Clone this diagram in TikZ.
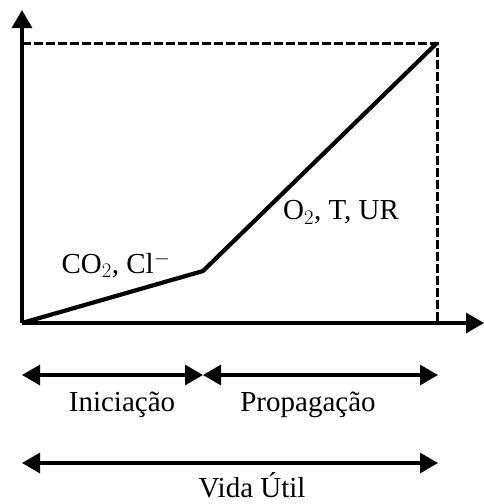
\documentclass[tikz,border=0pt]{standalone}
\usepackage{fontspec}
\setmainfont{Liberation Serif}
\usetikzlibrary{arrows.meta}
\begin{document}
\begin{tikzpicture}[x=1pt,y=-1pt,
  axis/.style={line width=3.2pt,-{Triangle[length=18pt,width=20pt]}},
  guide/.style={line width=3pt,dash pattern=on 9pt off 3pt},
  curve/.style={line width=4.2pt,line join=round},
  span/.style={line width=3.2pt,{Triangle[length=18pt,width=20pt]}-{Triangle[length=18pt,width=20pt]}},
  lbl/.style={font=\fontsize{29}{31}\selectfont,inner sep=0pt}]
\useasboundingbox (0,0) rectangle (484,504);
\coordinate (O) at (22,323);
\coordinate (Ytop) at (22,10);
\coordinate (Xend) at (484,323);
\coordinate (K) at (203,271);
\coordinate (T) at (437,43);
\coordinate (TL) at (22,43);
\coordinate (TB) at (437,323);
\draw[guide] (TL) -- (T) -- (TB);
\draw[axis] (O) -- (Ytop);
\draw[axis] (O) -- (Xend);
\draw[curve] (O) -- (K) -- (T);
\node[lbl] (co2) at (116,265) {CO$_2$, Cl$^{-}$};
\node[lbl] (o2) at (341,212) {O$_2$, T, UR};
\coordinate (a1) at (22,375);
\coordinate (a2) at (203,375);
\coordinate (a3) at (438,375);
\coordinate (b1) at (22,463);
\coordinate (b2) at (438,463);
\draw[span] (a1) -- (a2);
\draw[span] (a2) -- (a3);
\draw[span] (b1) -- (b2);
\node[lbl] (ini) at (122,405) {Iniciação};
\node[lbl] (pro) at (308,405) {Propagação};
\node[lbl] (vida) at (252,485) {Vida Útil};
\end{tikzpicture}
\end{document}
